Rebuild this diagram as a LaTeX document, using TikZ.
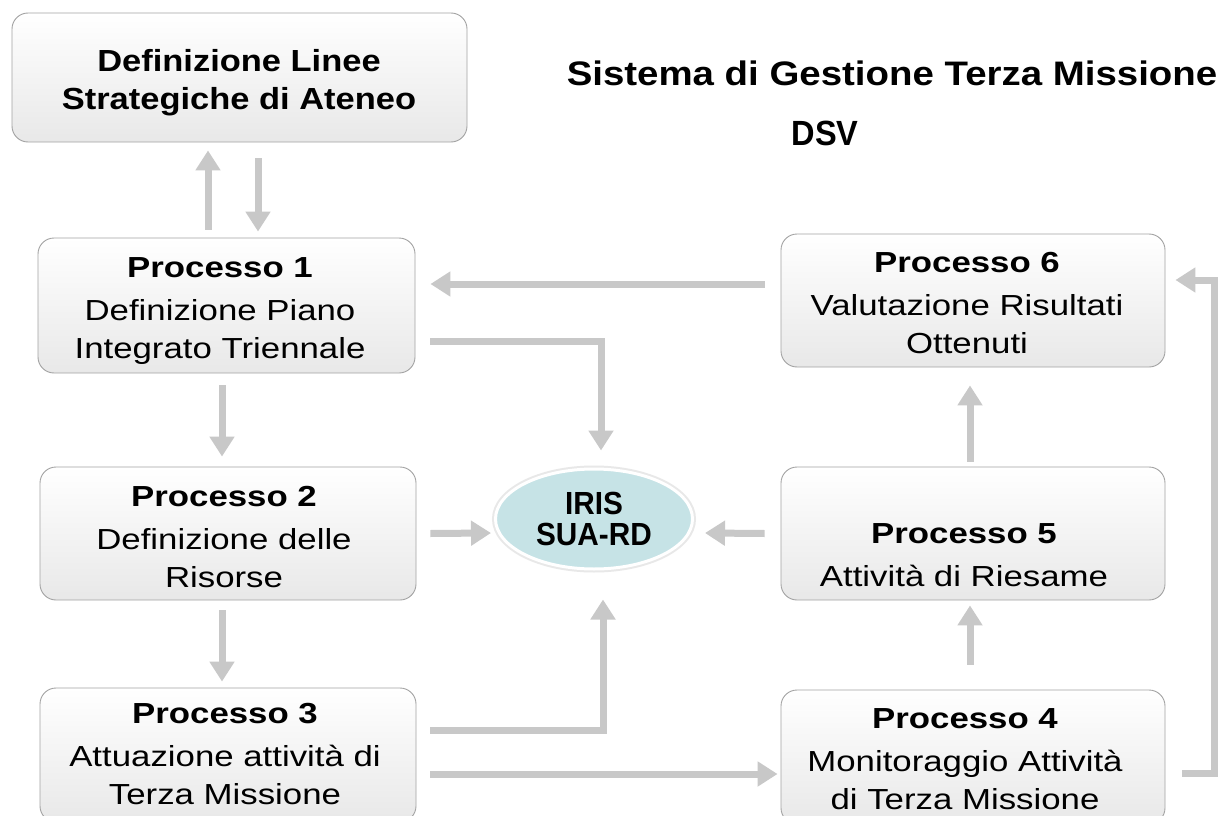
\documentclass[tikz,border=0pt]{standalone}
\usepackage{fontspec}
\setmainfont{Liberation Sans}[FakeStretch=1.2]
\newfontfamily\titlefont{Liberation Sans}[FakeStretch=1.13]
\newfontfamily\narrowfont{Liberation Sans}[FakeStretch=0.93]
\usetikzlibrary{arrows.meta,calc,shapes.geometric}
\definecolor{arrgray}{HTML}{C8C8C8}
\definecolor{boxline}{HTML}{A3A3A3}
\definecolor{irisfill}{HTML}{C6E3E6}
\begin{document}
\begin{tikzpicture}[x=1pt,y=-1pt,
  box/.style={rounded corners=16pt, draw=boxline, line width=0.9pt,
    top color=white, bottom color=black!9, inner sep=0pt},
  boxtext/.style={align=center, inner sep=0pt, font=\fontsize{29}{38}\selectfont},
  arr/.style={draw=arrgray, line width=7pt, -{Triangle[width=24pt,length=20pt]}},
  ttl/.style={inner sep=0pt, anchor=base}
]
\useasboundingbox (0,0) rectangle (1219,816);
\fill[white] (0,0) rectangle (1219,816);
\clip (0,0) rectangle (1219,816);

% boxes
\node[box, minimum width=455pt, minimum height=129pt] (top) at (239.5,77.5) {};
\node[box, minimum width=377pt, minimum height=135pt] (p1) at (226.5,305.5) {};
\node[box, minimum width=376pt, minimum height=133pt] (p2) at (228,533.5) {};
\node[box, minimum width=376pt, minimum height=134pt] (p3) at (228,755) {};
\node[box, minimum width=384pt, minimum height=133pt] (p6) at (973,300.5) {};
\node[box, minimum width=384pt, minimum height=133pt] (p5) at (973,533.5) {};
\node[box, minimum width=384pt, minimum height=134pt] (p4) at (973,757) {};

% texts
\node[boxtext, font=\titlefont\fontsize{30.5}{38}\selectfont\bfseries] (ttop) at (239,83) {Definizione Linee\\Strategiche di Ateneo};
\node[boxtext] (t1) at (220,311) {\textbf{Processo 1}\\[5pt]Definizione Piano\\Integrato Triennale};
\node[boxtext] (t2) at (224,537) {\textbf{Processo 2}\\[5pt]Definizione delle\\Risorse};
\node[boxtext] (t3) at (225,754) {\textbf{Processo 3}\\[5pt]Attuazione attività di\\Terza Missione};
\node[boxtext] (t6) at (967,303) {\textbf{Processo 6}\\[5pt]Valutazione Risultati\\Ottenuti};
\node[boxtext] (t5) at (964,555) {\textbf{Processo 5}\\[5pt]Attività di Riesame};
\node[boxtext] (t4) at (965,759) {\textbf{Processo 4}\\[5pt]Monitoraggio Attività\\di Terza Missione};

% IRIS ellipse
\node[ellipse, minimum width=197pt, minimum height=100pt, inner sep=0pt,
  fill=irisfill, draw=white, line width=3pt,
  preaction={draw=black!9, line width=7pt},
  align=center, font=\narrowfont\fontsize{32}{31}\selectfont\bfseries] (iris) at (594,519) {IRIS\\SUA-RD};

% title
\node[ttl, font=\titlefont\fontsize{34}{40}\selectfont\bfseries] (title) at (892,85) {Sistema di Gestione Terza Missione};
\node[ttl, font=\narrowfont\fontsize{35}{40}\selectfont\bfseries] (dsv) at (825,145) {DSV};

% connectors
\draw[arr] ($(p1.north)+(-18.5,-8)$) -- ($(top.south)+(-31.5,8)$);
\draw[arr] ($(top.south)+(18.5,16)$) -- ($(p1.north)+(31.5,-6)$);
\draw[arr] ($(p1.south)+(-4.5,12)$) -- ($(p2.north)+(-6,-10)$);
\draw[arr] ($(p2.south)+(-6,10)$) -- ($(p3.north)+(-6,-6)$);
\draw[arr] ($(p6.west)+(-16,-16.5)$) -- ($(p1.east)+(15,-21.5)$);
\draw[arr] ($(p1.east)+(15,35.5)$) -| ($(iris.north)+(7,-17)$);
\draw[arr] ($(p2.east)+(14,0)$) -- ($(iris.west)+(-3,14)$);
\draw[arr] ($(p5.west)+(-16,0)$) -- ($(iris.east)+(11,14)$);
\draw[arr] ($(p3.east)+(14,-25)$) -| ($(iris.south)+(9,29)$);
\draw[arr] ($(p3.east)+(14,19)$) -- ($(p4.west)+(-3,17)$);
\draw[arr] ($(p4.north)+(-3,-25)$) -- ($(p5.south)+(-3,5)$);
\draw[arr] ($(p5.north)+(-3,-5)$) -- ($(p6.south)+(-3,18)$);
\draw[arr] ($(p4.east)+(17,16)$) -- ++(32,0) |- ($(p6.east)+(10,-20.5)$);
\end{tikzpicture}
\end{document}
